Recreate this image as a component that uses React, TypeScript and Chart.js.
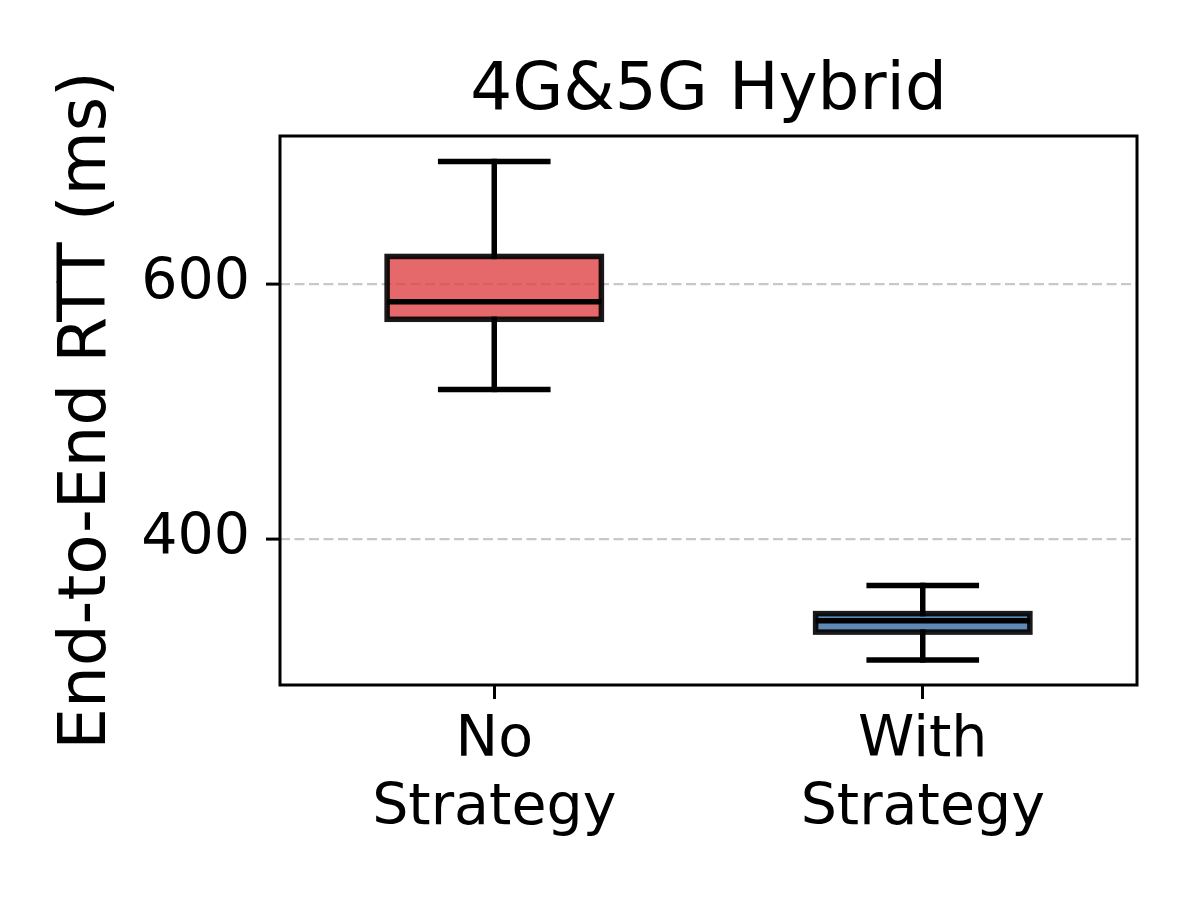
import React, { useEffect, useRef } from "react";
import { Chart, registerables } from "chart.js";

Chart.register(...registerables);

const TITLE = "4G&5G Hybrid";
const Y_TITLE = "End-to-End RTT (ms)";
const CATEGORIES = [["No", "Strategy"], ["With", "Strategy"]];
const WHISKER_LOW = [517.4, 305.2];
const Q1 = [572.4, 327.0];
const MEDIAN = [586.1, 336.0];
const Q3 = [621.7, 341.5];
const WHISKER_HIGH = [696.2, 363.6];
const Y_TICKS = [400, 600];
const Y_MIN = 285.5;
const Y_MAX = 716.2;
const FILL_COLORS = ["rgba(222,66,70,0.8)", "rgba(55,106,163,0.8)"];

const FONT = "'DejaVu Sans', sans-serif";

const boxPlugin = {
  id: "boxWhiskers",
  afterDatasetsDraw(chart: any) {
    const { ctx, chartArea } = chart;
    const y = chart.scales.y;
    const meta = chart.getDatasetMeta(0);
    const line = (x1: number, y1: number, x2: number, y2: number) => {
      ctx.beginPath();
      ctx.moveTo(x1, y1);
      ctx.lineTo(x2, y2);
      ctx.stroke();
    };
    ctx.save();
    meta.data.forEach((bar: any, i: number) => {
      const { x: cx, width } = bar.getProps(["x", "width"], true);
      const half = width / 2;
      const yLo = y.getPixelForValue(WHISKER_LOW[i]);
      const yQ1 = y.getPixelForValue(Q1[i]);
      const yMed = y.getPixelForValue(MEDIAN[i]);
      const yQ3 = y.getPixelForValue(Q3[i]);
      const yHi = y.getPixelForValue(WHISKER_HIGH[i]);
      // whiskers
      ctx.strokeStyle = "#000";
      ctx.lineWidth = 5.5;
      ctx.lineCap = "square";
      line(cx, yQ3, cx, yHi);
      line(cx, yQ1, cx, yLo);
      // caps
      line(cx - half / 2, yHi, cx + half / 2, yHi);
      line(cx - half / 2, yLo, cx + half / 2, yLo);
      // box outline
      ctx.lineCap = "butt";
      ctx.lineJoin = "miter";
      ctx.strokeStyle = "rgba(0,0,0,0.9)";
      ctx.lineWidth = 5.5;
      ctx.strokeRect(cx - half, yQ3, width, yQ1 - yQ3);
      // median
      ctx.strokeStyle = "#000";
      ctx.lineWidth = 5.5;
      line(cx - half, yMed, cx + half, yMed);
    });
    // spines
    ctx.strokeStyle = "#000";
    ctx.lineWidth = 3;
    ctx.lineCap = "butt";
    ctx.strokeRect(
      chartArea.left,
      chartArea.top,
      chartArea.right - chartArea.left,
      chartArea.bottom - chartArea.top
    );
    ctx.restore();
  },
};

export default function App() {
  const ref = useRef<HTMLCanvasElement | null>(null);

  useEffect(() => {
    if (!ref.current) return;
    const chart = new Chart(ref.current, {
      type: "bar",
      data: {
        labels: CATEGORIES as any,
        datasets: [
          {
            data: Q1.map((q, i) => [q, Q3[i]]) as any,
            backgroundColor: FILL_COLORS,
            borderWidth: 0,
            barPercentage: 0.5,
            categoryPercentage: 1,
            inflateAmount: 0,
          } as any,
        ],
      },
      options: {
        responsive: false,
        animation: false,
        devicePixelRatio: 1,
        layout: { padding: { left: 0, right: 63, top: 0, bottom: 0 } },
        plugins: {
          legend: { display: false },
          tooltip: { enabled: false },
          title: { display: false },
        },
        scales: {
          top: {
            type: "category",
            position: "top",
            display: true,
            grid: { display: false },
            border: { display: false },
            ticks: { display: false },
            title: {
              display: true,
              text: TITLE,
              color: "#000",
              font: { family: FONT, size: 66, weight: "normal", lineHeight: 1.2 },
              padding: { top: 52.4, bottom: 0 },
            },
            afterFit: (s: any) => {
              s.height = 136;
            },
          },
          x: {
            type: "category",
            offset: true,
            grid: {
              display: true,
              drawOnChartArea: false,
              drawTicks: true,
              tickLength: 14,
              tickWidth: 3,
              tickColor: "#000",
              offset: false,
            },
            border: { display: false },
            ticks: {
              color: "#000",
              font: { family: FONT, size: 57, lineHeight: 1.2 },
              padding: 8,
              maxRotation: 0,
              autoSkip: false,
            },
            afterFit: (s: any) => {
              s.height = 215;
            },
          },
          y: {
            type: "linear",
            min: Y_MIN,
            max: Y_MAX,
            afterBuildTicks: (s: any) => {
              s.ticks = Y_TICKS.map((v) => ({ value: v }));
            },
            grid: {
              color: "#c8c8c8",
              lineWidth: 2.2,
              drawTicks: true,
              tickLength: 14,
              tickWidth: 3,
              tickColor: "#000",
            },
            border: { display: false, dash: [10, 4.5] },
            ticks: {
              color: "#000",
              font: { family: FONT, size: 57, lineHeight: 1.2 },
              padding: 16,
            },
            title: {
              display: true,
              text: Y_TITLE,
              color: "#000",
              font: { family: FONT, size: 66, lineHeight: 1.2 },
              padding: { top: 47.8, bottom: 0 },
            },
            afterFit: (s: any) => {
              s.width = 280;
            },
          },
        },
      } as any,
      plugins: [boxPlugin],
    });
    return () => chart.destroy();
  }, []);

  return (
    <div style={{ position: "fixed", left: 0, top: 0, width: 1200, height: 900, background: "#fff" }}>
      <canvas ref={ref} width={1200} height={900} style={{ display: "block" }} />
    </div>
  );
}
